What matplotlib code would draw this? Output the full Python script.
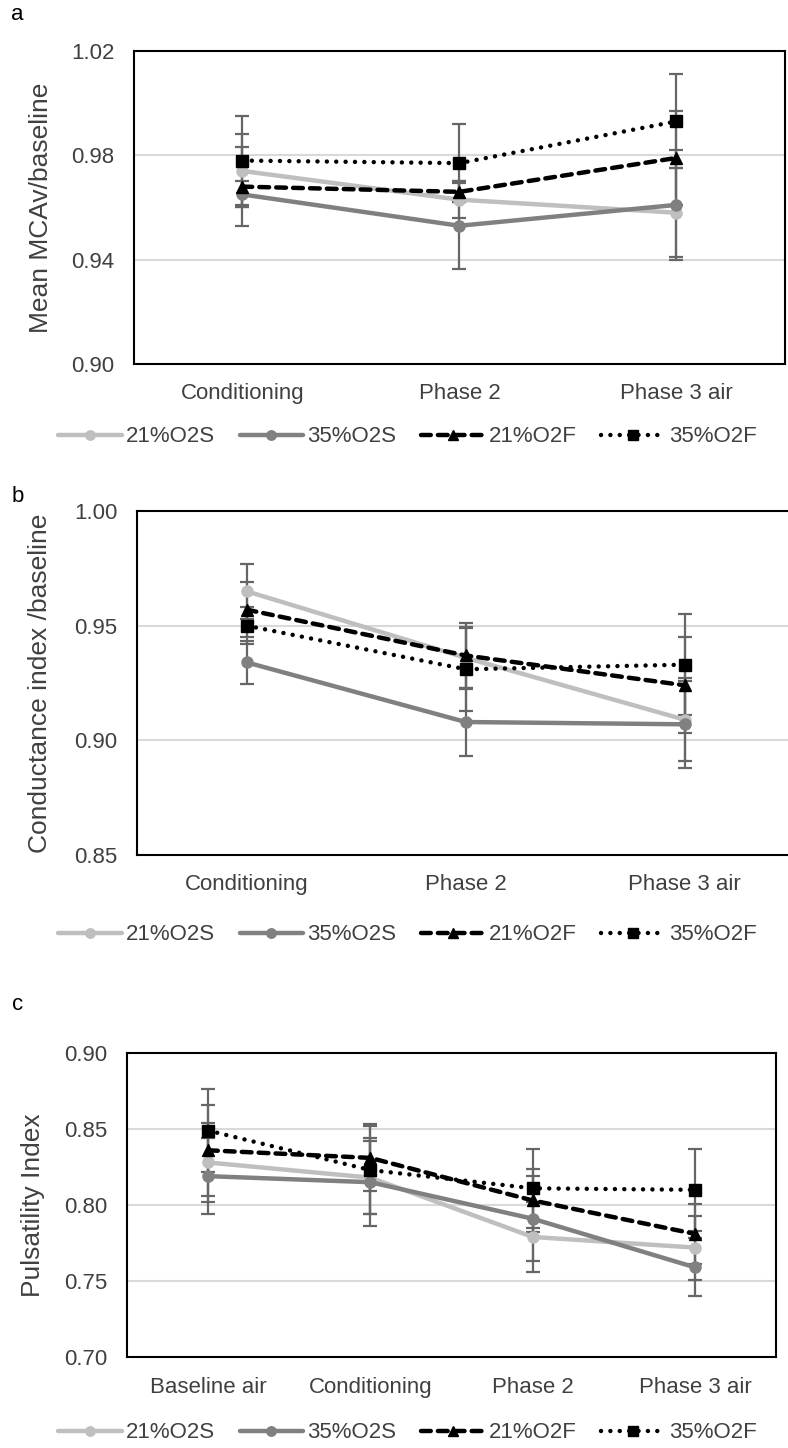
import numpy as np
import matplotlib
matplotlib.use('Agg')
import matplotlib.pyplot as plt

plt.rcParams['font.family'] = ['Liberation Sans', 'DejaVu Sans']

# series names
series = ['21%O2S', '35%O2S', '21%O2F', '35%O2F']

# panel a - mean MCAv / baseline
cats_a = ['Conditioning', 'Phase 2', 'Phase 3 air']
mcav = {
    '21%O2S': [0.974, 0.963, 0.958],
    '35%O2S': [0.965, 0.953, 0.961],
    '21%O2F': [0.968, 0.966, 0.979],
    '35%O2F': [0.978, 0.977, 0.993],
}
mcav_err = {
    '21%O2S': [0.014, 0.007, 0.017],
    '35%O2S': [0.005, 0.0165, 0.021],
    '21%O2F': [0.015, 0.004, 0.018],
    '35%O2F': [0.017, 0.015, 0.018],
}

# panel b - conductance index / baseline
cats_b = ['Conditioning', 'Phase 2', 'Phase 3 air']
ci = {
    '21%O2S': [0.965, 0.936, 0.909],
    '35%O2S': [0.934, 0.908, 0.907],
    '21%O2F': [0.957, 0.937, 0.924],
    '35%O2F': [0.950, 0.931, 0.933],
}
ci_err = {
    '21%O2S': [0.012, 0.0135, 0.018],
    '35%O2S': [0.0095, 0.015, 0.019],
    '21%O2F': [0.012, 0.014, 0.021],
    '35%O2F': [0.008, 0.018, 0.022],
}

# panel c - pulsatility index
cats_c = ['Baseline air', 'Conditioning', 'Phase 2', 'Phase 3 air']
pi = {
    '21%O2S': [0.828, 0.818, 0.779, 0.772],
    '35%O2S': [0.819, 0.815, 0.791, 0.759],
    '21%O2F': [0.836, 0.831, 0.803, 0.781],
    '35%O2F': [0.849, 0.823, 0.811, 0.810],
}
pi_err = {
    '21%O2S': [0.026, 0.024, 0.023, 0.021],
    '35%O2S': [0.025, 0.029, 0.028, 0.019],
    '21%O2F': [0.030, 0.022, 0.021, 0.020],
    '35%O2F': [0.027, 0.029, 0.026, 0.027],
}

styles = {
    '21%O2S': dict(color='#BFBFBF', ls='-', marker='o', ms=8),
    '35%O2S': dict(color='#808080', ls='-', marker='o', ms=8),
    '21%O2F': dict(color='black', ls=(0, (2.2, 1.6)), marker='^', ms=9),
    '35%O2F': dict(color='black', ls=(0, (0.01, 2.1)), marker='s', ms=9),
}

TXT = '#404040'
FS = 16


def draw_panel(ax, cats, vals, errs, ylim, yticks, ylabel, label_x):
    x = np.arange(len(cats))
    for i, s in enumerate(series):
        st = styles[s]
        ax.errorbar(x, vals[s], yerr=errs[s], fmt='none', ecolor='#666666',
                    elinewidth=1.6, capsize=5, capthick=1.6, zorder=2)
        ax.plot(x, vals[s], color=st['color'], linestyle=st['ls'], lw=3.2,
                marker=st['marker'], ms=st['ms'], mfc=st['color'], mec=st['color'],
                dash_capstyle='round', solid_capstyle='round',
                label=s, zorder=3 + i)
    ax.set_xlim(-0.5, len(cats) - 0.5)
    ax.set_ylim(*ylim)
    ax.set_yticks(yticks)
    ax.set_yticklabels(['%.2f' % t for t in yticks])
    ax.set_xticks(x)
    ax.set_xticklabels(cats)
    ax.tick_params(length=0, labelsize=FS, colors=TXT)
    ax.tick_params(axis='y', pad=14)
    ax.tick_params(axis='x', pad=14)
    for t in yticks[1:-1]:
        ax.axhline(t, color='#D9D9D9', lw=1.5, zorder=1)
    for sp in ax.spines.values():
        sp.set_color('black')
        sp.set_linewidth(1.5)
    ax.set_ylabel(ylabel, fontsize=19, color=TXT)
    ax.yaxis.set_label_coords(label_x, 0.5)


fig = plt.figure(figsize=(7.88, 14.48), dpi=100)

ax_a = fig.add_axes([0.170, 0.7486, 0.826, 0.2162])
draw_panel(ax_a, cats_a, mcav, mcav_err, (0.90, 1.02), [0.90, 0.94, 0.98, 1.02],
           'Mean MCAv/baseline', -0.124)

ax_b = fig.add_axes([0.174, 0.4095, 0.834, 0.2376])
draw_panel(ax_b, cats_b, ci, ci_err, (0.85, 1.00), [0.85, 0.90, 0.95, 1.00],
           'Conductance index /baseline', -0.129)

ax_c = fig.add_axes([0.161, 0.0628, 0.824, 0.2100])
draw_panel(ax_c, cats_c, pi, pi_err, (0.70, 0.90), [0.70, 0.75, 0.80, 0.85, 0.90],
           'Pulsatility Index', -0.126)

legend_y = [1 - 437 / 1448, 1 - 935 / 1448, 1 - 1433 / 1448]
for ax, ly in zip([ax_a, ax_b, ax_c], legend_y):
    handles, labels = ax.get_legend_handles_labels()
    fig.legend(handles, labels, loc='center', bbox_to_anchor=(0.517, ly), ncol=4,
               frameon=False, fontsize=FS, handlelength=2.85, handletextpad=0.2,
               columnspacing=1.1, labelcolor=TXT, markerscale=0.85)

for lab, y in zip(['a', 'b', 'c'], [15, 497, 1005]):
    fig.text(0.022, 1 - y / 1448, lab, fontsize=FS, ha='center', va='center', color='black')

fig.savefig('out.png', dpi=100)
